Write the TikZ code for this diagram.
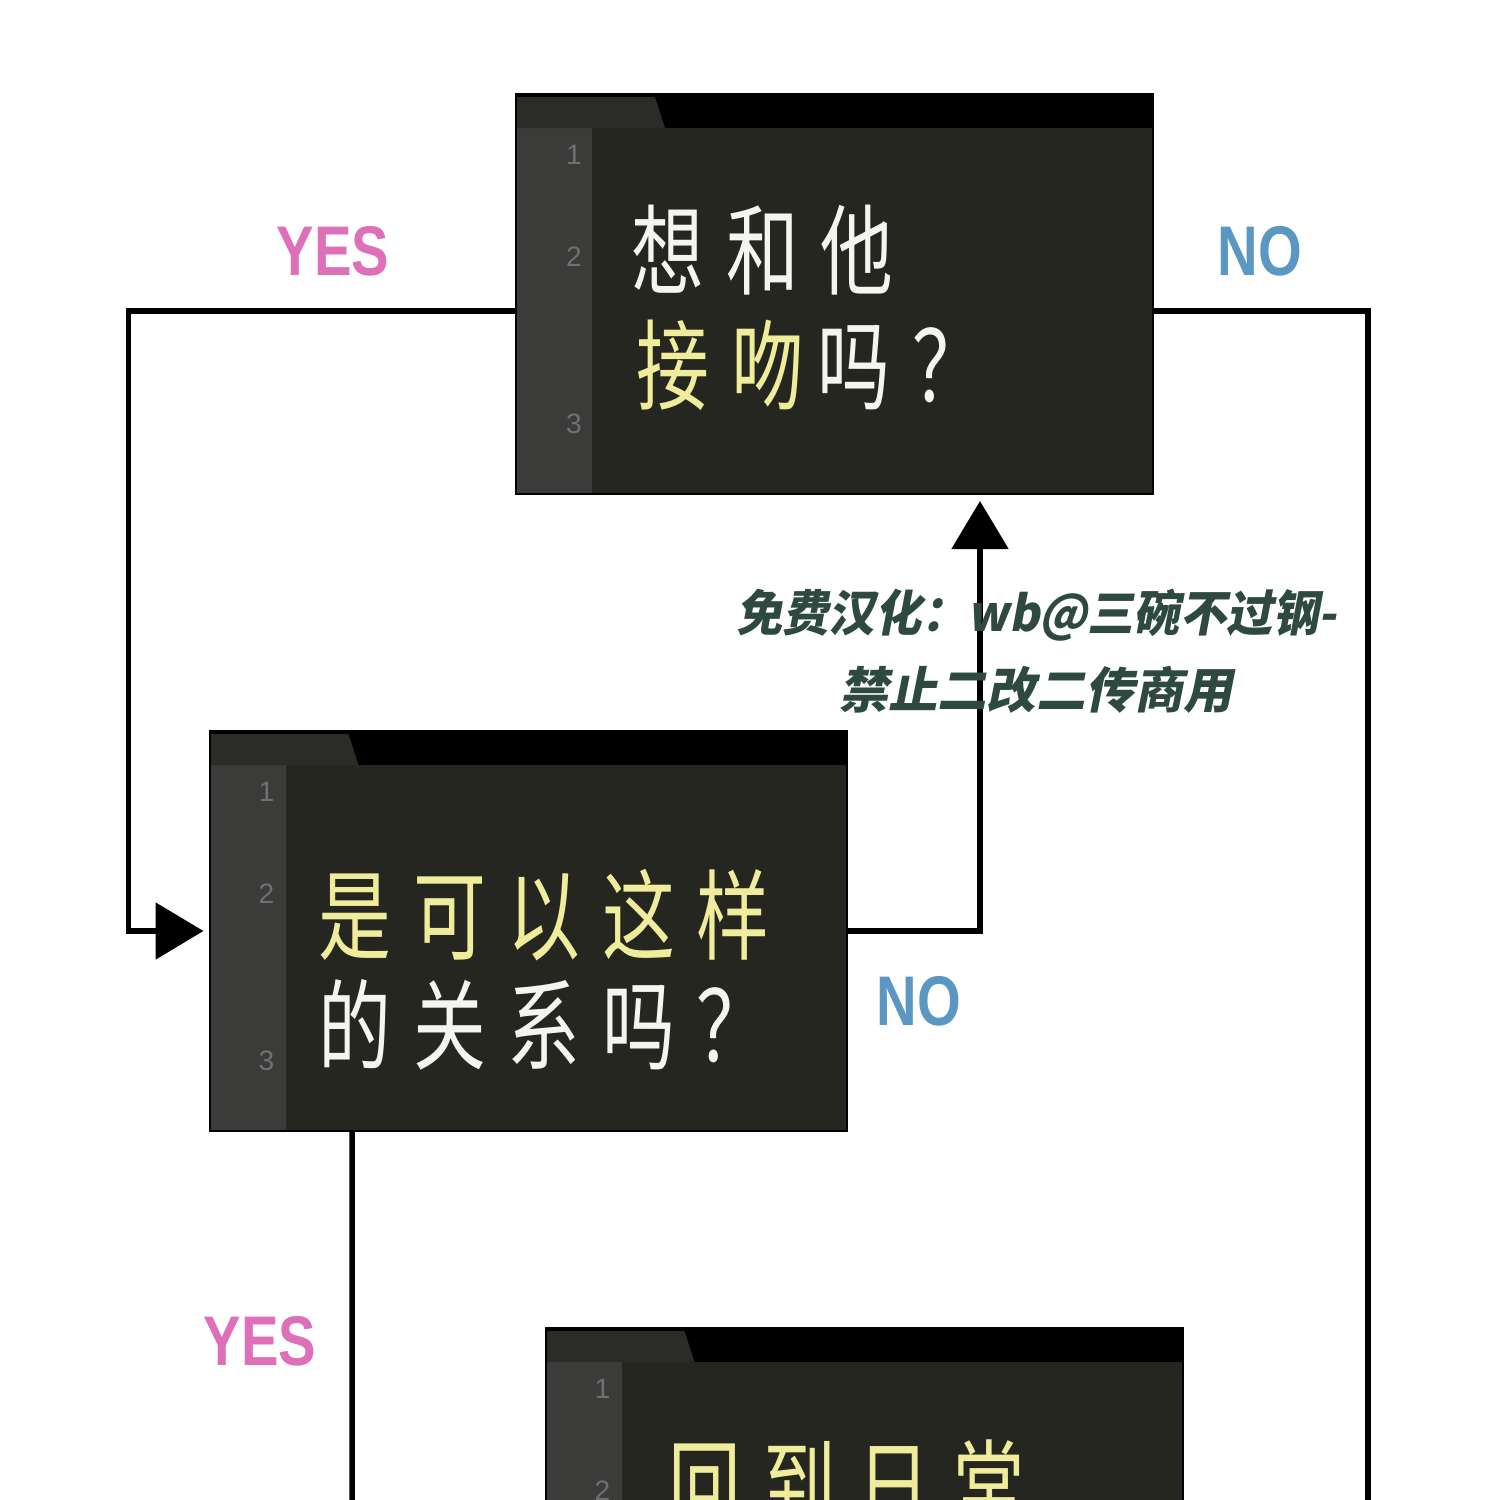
\documentclass[tikz,border=0pt]{standalone}
\usepackage{fontspec}
\setmainfont{Liberation Sans}
\newfontfamily\boxfont[FakeStretch=0.74,LetterSpace=22]{Noto Sans CJK SC}
\newfontfamily\tagfont[FakeStretch=0.8]{Liberation Sans}
\newfontfamily\wmfont[FakeSlant=0.2]{Noto Sans CJK SC}
\usetikzlibrary{arrows.meta,calc}

\definecolor{boxbg}{HTML}{262621}
\definecolor{guttergrey}{HTML}{3B3B3A}
\definecolor{tabgrey}{HTML}{2B2B27}
\definecolor{numgrey}{HTML}{707070}
\definecolor{qwhite}{HTML}{F4F4F0}
\definecolor{qyellow}{HTML}{EFEC9C}
\definecolor{yespink}{HTML}{DE6FB9}
\definecolor{noblue}{HTML}{5A97C2}
\definecolor{wmgreen}{HTML}{2E4A3F}

\newcommand{\yel}[1]{\textcolor{qyellow}{#1}}

\tikzset{
  codebox/.style={rectangle, draw=black, line width=0.02cm, fill=boxbg,
    minimum width=6.37cm, minimum height=4cm, inner sep=0pt,
    path picture={
      \fill[guttergrey] ([yshift=-0.34cm]path picture bounding box.north west)
        rectangle ([xshift=0.76cm]path picture bounding box.south west);
      \fill[black] (path picture bounding box.north west)
        rectangle ([yshift=-0.34cm]path picture bounding box.north east);
      \fill[tabgrey] ([yshift=-0.03cm]path picture bounding box.north west)
        -- ++(1.39cm,0) -- ++(0.1cm,-0.31cm) -- ++(-1.49cm,0) -- cycle;
    }},
  linenum/.style={text=numgrey, font=\fontsize{8}{8}\selectfont, inner sep=0pt},
  qtext/.style={text=qwhite, font=\boxfont\fontsize{28}{28}\selectfont, inner sep=0pt, anchor=base west},
  tag/.style={font=\tagfont\bfseries\fontsize{20}{20}\selectfont, inner sep=0pt, anchor=base},
  wmark/.style={text=wmgreen, font=\wmfont\bfseries\fontsize{14}{14}\selectfont, inner sep=0pt},
  flow/.style={draw=black, line width=0.055cm},
  tip/.style={-{Triangle[length=0.48cm,width=0.56cm]}}
}

\begin{document}
\begin{tikzpicture}
    \useasboundingbox (0,0) rectangle (15,-15);
    \fill[white] (0,0) rectangle (15,-15);
    \clip (0,0) rectangle (15,-15);

    % Question boxes
    \node[codebox] (kiss) at (8.345,-2.94) {};
    \node[codebox] (rel) at (5.28,-9.31) {};
    \node[codebox] (back) at (8.64,-15.28) {};

    \foreach \n/\y in {1/0.62,2/1.64,3/3.31} {
        \node[linenum] (kiss-n\n) at ([xshift=0.59cm,yshift=-\y cm]kiss.north west) {\n};
        \node[linenum] (rel-n\n) at ([xshift=0.58cm,yshift=-\y cm]rel.north west) {\n};
    }
    \foreach \n/\y in {1/0.62,2/1.64} {
        \node[linenum] (back-n\n) at ([xshift=0.58cm,yshift=-\y cm]back.north west) {\n};
    }

    \coordinate (nodown) at (13.68,-15.2);
    \coordinate (yesdown) at (3.52,-15.2);

    % Connectors
    \draw[flow,tip,shorten >=0.05cm] ([yshift=-0.17cm]kiss.west) -| ([xshift=-0.8cm]rel.west) -- (rel.west);
    \draw[flow] ([yshift=-0.17cm]kiss.east) -| (nodown);
    \draw[flow,tip,shorten >=0.06cm] (rel.east) -| ([xshift=1.455cm]kiss.south);
    \draw[flow] ([xshift=-1.76cm]rel.south) -- (yesdown);

    % Box texts
    \node[qtext] (kiss-l1) at (6.31,-2.87) {想和他};
    \node[qtext] (kiss-l2) at (6.36,-4.02) {\yel{接吻}\kern0.14em 吗？};
    \node[qtext] (rel-l1) at (3.18,-9.52) {\yel{是可以这样}};
    \node[qtext] (rel-l2) at (3.18,-10.62) {的关系吗？};
    \node[qtext] (back-l1) at (6.68,-15.22) {\yel{回到日常}};

    % Labels
    \node[tag,text=yespink] (yes-1) at (3.33,-2.75) {YES};
    \node[tag,text=noblue] (no-1) at (12.60,-2.75) {NO};
    \node[tag,text=noblue] (no-2) at (9.19,-10.25) {NO};
    \node[tag,text=yespink] (yes-2) at (2.60,-13.65) {YES};

    \node[wmark,xscale=0.94,transform shape] (wm-1) at (10.365,-6.15) {免费汉化：wb@三碗不过钢-};
    \node[wmark] (wm-2) at (10.36,-6.90) {禁止二改二传商用};
\end{tikzpicture}
\end{document}
